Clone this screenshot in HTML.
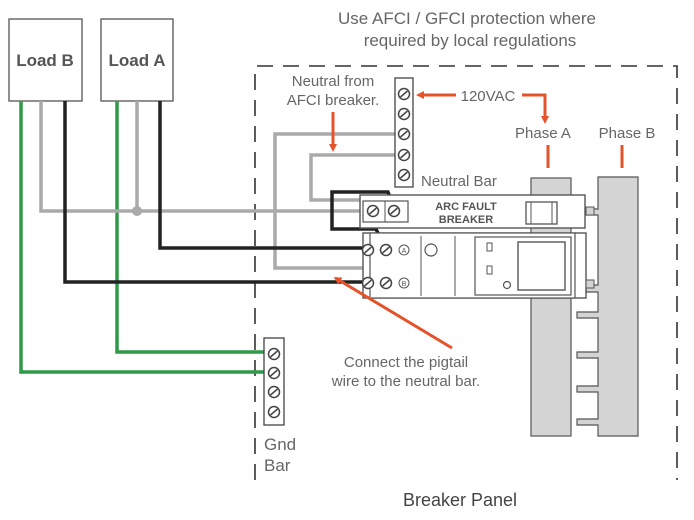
<!DOCTYPE html>
<html><head><meta charset="utf-8"><style>
body{margin:0;background:#fff}
svg{display:block;font-family:"Liberation Sans",sans-serif}
</style></head><body>
<svg width="694" height="520" viewBox="0 0 694 520" xmlns="http://www.w3.org/2000/svg">
<defs>
<g id="scr"><circle r="5.5" fill="#fff" stroke="#444" stroke-width="1.5"/><line x1="-3.5" y1="3" x2="3.5" y2="-3" stroke="#444" stroke-width="1.5"/></g>
<marker id="ah" markerWidth="8" markerHeight="8" refX="4" refY="4" orient="auto" markerUnits="userSpaceOnUse"><path d="M0,0 L8,4 L0,8 z" fill="#e5532b"/></marker>
</defs>
<!-- panel dashed -->
<path d="M255,480 V66 H677 V480" fill="none" stroke="#333" stroke-width="1.6" stroke-dasharray="16,10"/>
<!-- text -->
<g fill="#666" text-anchor="middle">
<text x="467" y="24" font-size="17">Use AFCI / GFCI protection where</text>
<text x="470" y="46" font-size="17">required by local regulations</text>
<text x="333" y="86" font-size="15">Neutral from</text>
<text x="333" y="105" font-size="15">AFCI breaker.</text>
<text x="406" y="367" font-size="15">Connect the pigtail</text>
<text x="406" y="386" font-size="15">wire to the neutral bar.</text>
<text x="460" y="506" font-size="18" fill="#444">Breaker Panel</text>
<text x="488" y="101" font-size="15">120VAC</text>
<text x="543" y="138" font-size="15">Phase A</text>
<text x="627" y="138" font-size="15">Phase B</text>
</g>
<g fill="#666" font-size="17">
<text x="264" y="450">Gnd</text><text x="264" y="471">Bar</text>
<text x="421" y="186" font-size="15">Neutral Bar</text>
</g>
<!-- bus bars -->
<g fill="#d4d4d4" stroke="#555" stroke-width="1.2">
<rect x="531" y="178" width="40" height="258"/>
<path d="M598,177 H638 V436 H598 V425 H577 V419 H598 V392 H577 V386 H598 V358 H577 V352 H598 V318 H577 V312 H598 V292 H586 V285 H598 V215 H586 V209 H598 Z"/>
</g>
<!-- loads -->
<g fill="#fff" stroke="#555" stroke-width="1.3">
<rect x="9" y="19" width="73" height="82"/><rect x="101" y="19" width="72" height="82"/>
</g>
<g fill="#555" font-size="17" font-weight="bold" text-anchor="middle">
<text x="45" y="66">Load B</text><text x="137" y="66">Load A</text>
</g>
<!-- wires -->
<g fill="none" stroke-width="3.5">
<path d="M21,101 V372 H270" stroke="#2e9a48"/>
<path d="M117,101 V352 H270" stroke="#2e9a48"/>
<path d="M41,101 V211 H372" stroke="#aaa"/>
<path d="M137,101 V211" stroke="#aaa"/>
<path d="M404,134 H275 V268 H365" stroke="#aaa"/>
<path d="M404,155 H311 V200 H365" stroke="#aaa"/>
<path d="M160,101 V248 H368" stroke="#222"/>
<path d="M65,101 V282 H368" stroke="#222"/>
<path d="M395,211 L388,192 H332 V229 H376 L386,250" stroke="#222"/>
</g>
<circle cx="137" cy="211" r="5" fill="#aaa"/>
<!-- neutral bar -->
<rect x="395" y="78" width="18" height="109" fill="#fff" stroke="#444" stroke-width="1.3"/>
<use href="#scr" x="404" y="94"/><use href="#scr" x="404" y="114"/><use href="#scr" x="404" y="134"/><use href="#scr" x="404" y="155"/><use href="#scr" x="404" y="175"/>
<!-- gnd bar -->
<rect x="264" y="338" width="20" height="87" fill="#fff" stroke="#444" stroke-width="1.3"/>
<use href="#scr" x="274" y="354"/><use href="#scr" x="274" y="373"/><use href="#scr" x="274" y="392"/><use href="#scr" x="274" y="412"/>
<!-- arc fault breaker -->
<rect x="360" y="195" width="225" height="33" fill="#fff" stroke="#555" stroke-width="1.4"/>
<rect x="363" y="201" width="45" height="21" fill="#fff" stroke="#555" stroke-width="1.2"/>
<line x1="385" y1="201" x2="385" y2="222" stroke="#555"/>
<use href="#scr" x="373" y="211"/><use href="#scr" x="394" y="211"/>
<rect x="526" y="202" width="31" height="22" fill="#fff" stroke="#555" stroke-width="1.3"/>
<line x1="531" y1="202" x2="531" y2="224" stroke="#555"/><line x1="552" y1="202" x2="552" y2="224" stroke="#555"/>
<text x="466" y="210" font-size="11" font-weight="bold" fill="#555" text-anchor="middle">ARC FAULT</text>
<text x="466" y="223" font-size="11" font-weight="bold" fill="#555" text-anchor="middle">BREAKER</text>
<rect x="586" y="207" width="8" height="8" fill="#d4d4d4" stroke="#555"/>
<!-- GFCI dimmer -->
<rect x="363" y="233" width="223" height="65" fill="#fff" stroke="#555" stroke-width="1.4"/>
<rect x="370" y="233" width="205" height="65" fill="#fff" stroke="#555" stroke-width="1.2"/>
<use href="#scr" x="368" y="250"/><use href="#scr" x="368" y="283"/>
<use href="#scr" x="386" y="250"/><use href="#scr" x="386" y="283"/>
<circle cx="404" cy="250" r="5" fill="#fff" stroke="#555"/><circle cx="404" cy="283" r="5" fill="#fff" stroke="#555"/>
<text x="404" y="253" font-size="7" text-anchor="middle" fill="#555">A</text><text x="404" y="286" font-size="7" text-anchor="middle" fill="#555">B</text>
<line x1="421" y1="236" x2="421" y2="296" stroke="#555"/>
<circle cx="431" cy="250" r="6" fill="#fff" stroke="#555" stroke-width="1.2"/>
<line x1="455" y1="236" x2="455" y2="296" stroke="#555"/>
<rect x="475" y="237" width="96" height="58" fill="#fff" stroke="#555" stroke-width="1.2"/>
<rect x="518" y="242" width="47" height="48" fill="#fff" stroke="#555" stroke-width="1.4"/>
<rect x="487" y="243" width="5" height="8" fill="#fff" stroke="#555"/><rect x="487" y="266" width="5" height="8" fill="#fff" stroke="#555"/>
<circle cx="507" cy="285" r="3.5" fill="#fff" stroke="#555" stroke-width="1.2"/>
<rect x="586" y="280" width="8" height="8" fill="#d4d4d4" stroke="#555"/>
<!-- orange -->
<g stroke="#e5532b" stroke-width="3" fill="none">
<line x1="456" y1="95" x2="420" y2="95" marker-end="url(#ah)"/>
<path d="M522,95 H545 V120" marker-end="url(#ah)"/>
<line x1="548" y1="145" x2="548" y2="168"/>
<line x1="622" y1="145" x2="622" y2="168"/>
<line x1="333" y1="112" x2="333" y2="148" marker-end="url(#ah)"/>
<line x1="452" y1="348" x2="337" y2="279" marker-end="url(#ah)"/>
</g>
</svg>
</body></html>
